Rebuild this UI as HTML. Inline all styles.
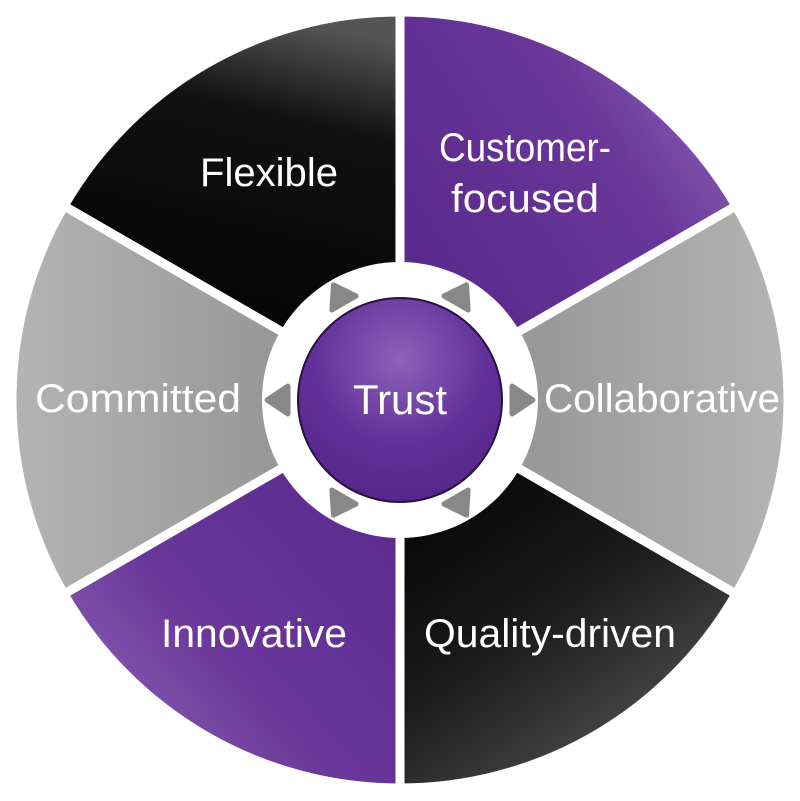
<!DOCTYPE html>
<html><head><style>html,body{margin:0;padding:0;background:#fff}svg{display:block}</style></head>
<body>
<svg width="800" height="801" viewBox="0 0 800 801" xmlns="http://www.w3.org/2000/svg">
<defs>
<linearGradient id="gFlex" x1="0.6" y1="0" x2="0.4" y2="1"><stop offset="0" stop-color="#555"/><stop offset="0.25" stop-color="#111"/><stop offset="1" stop-color="#000"/></linearGradient>
<linearGradient id="gCust" x1="1" y1="0.2" x2="0.2" y2="0.8"><stop offset="0" stop-color="#8a62b4"/><stop offset="0.4" stop-color="#6a3699"/><stop offset="1" stop-color="#5a2a8c"/></linearGradient>
<linearGradient id="gColl" x1="0" y1="0" x2="1" y2="0"><stop offset="0" stop-color="#8a8a8a"/><stop offset="1" stop-color="#b4b4b4"/></linearGradient>
<linearGradient id="gComm" x1="1" y1="0" x2="0" y2="0"><stop offset="0" stop-color="#8a8a8a"/><stop offset="1" stop-color="#b4b4b4"/></linearGradient>
<linearGradient id="gQual" x1="0.2" y1="0" x2="0.8" y2="1"><stop offset="0" stop-color="#000"/><stop offset="0.5" stop-color="#1a1a1a"/><stop offset="1" stop-color="#5a5a5a"/></linearGradient>
<linearGradient id="gInno" x1="0.9" y1="0.1" x2="0.1" y2="0.9"><stop offset="0" stop-color="#5a2a8c"/><stop offset="0.6" stop-color="#6a3699"/><stop offset="1" stop-color="#8a62b4"/></linearGradient>
<radialGradient id="gTrust" cx="0.5" cy="0.3" r="0.7"><stop offset="0" stop-color="#8e62ba"/><stop offset="0.6" stop-color="#62309a"/><stop offset="1" stop-color="#55268a"/></radialGradient>
</defs>
<g stroke="#fff" stroke-width="9" stroke-linejoin="miter">
<!-- r=388 center 400,400 ; dividers at 90,30,-30,-90,210,150 -->
<path d="M400 400 L400 12 A388 388 0 0 0 63.99 206 Z" fill="url(#gFlex)"/>
<path d="M400 400 L736.01 206 A388 388 0 0 0 400 12 Z" fill="url(#gCust)"/>
<path d="M400 400 L736.01 594 A388 388 0 0 0 736.01 206 Z" fill="url(#gColl)"/>
<path d="M400 400 L400 788 A388 388 0 0 0 736.01 594 Z" fill="url(#gQual)"/>
<path d="M400 400 L63.99 594 A388 388 0 0 0 400 788 Z" fill="url(#gInno)"/>
<path d="M400 400 L63.99 206 A388 388 0 0 0 63.99 594 Z" fill="url(#gComm)"/>
</g>
<circle cx="400" cy="400" r="138" fill="#fff"/>
<g fill="#888" stroke="#888" stroke-width="5" stroke-linejoin="round">
<g transform="translate(400,400)">
<polygon points="112,-14 133,0 112,14"/>
<polygon points="112,-14 133,0 112,14" transform="rotate(60)"/>
<polygon points="112,-14 133,0 112,14" transform="rotate(120)"/>
<polygon points="112,-14 133,0 112,14" transform="rotate(180)"/>
<polygon points="112,-14 133,0 112,14" transform="rotate(240)"/>
<polygon points="112,-14 133,0 112,14" transform="rotate(300)"/>
</g>
</g>
<circle cx="400" cy="400" r="102" fill="url(#gTrust)" stroke="#2a1040" stroke-width="2"/>
<g font-family="Liberation Sans, sans-serif" fill="#fff" font-size="40" text-anchor="middle">
<text x="269" y="186" textLength="138" lengthAdjust="spacingAndGlyphs">Flexible</text>
<text x="525" y="161" textLength="172" lengthAdjust="spacingAndGlyphs">Customer-</text>
<text x="525" y="212" textLength="148" lengthAdjust="spacingAndGlyphs">focused</text>
<text x="138" y="412" textLength="206" lengthAdjust="spacingAndGlyphs">Committed</text>
<text x="662" y="412" textLength="236" lengthAdjust="spacingAndGlyphs">Collaborative</text>
<text x="254" y="647" textLength="186" lengthAdjust="spacingAndGlyphs">Innovative</text>
<text x="550" y="647" textLength="252" lengthAdjust="spacingAndGlyphs">Quality-driven</text>
<text x="400" y="414" font-size="42" textLength="94" lengthAdjust="spacingAndGlyphs">Trust</text>
</g>
</svg>
</body></html>
